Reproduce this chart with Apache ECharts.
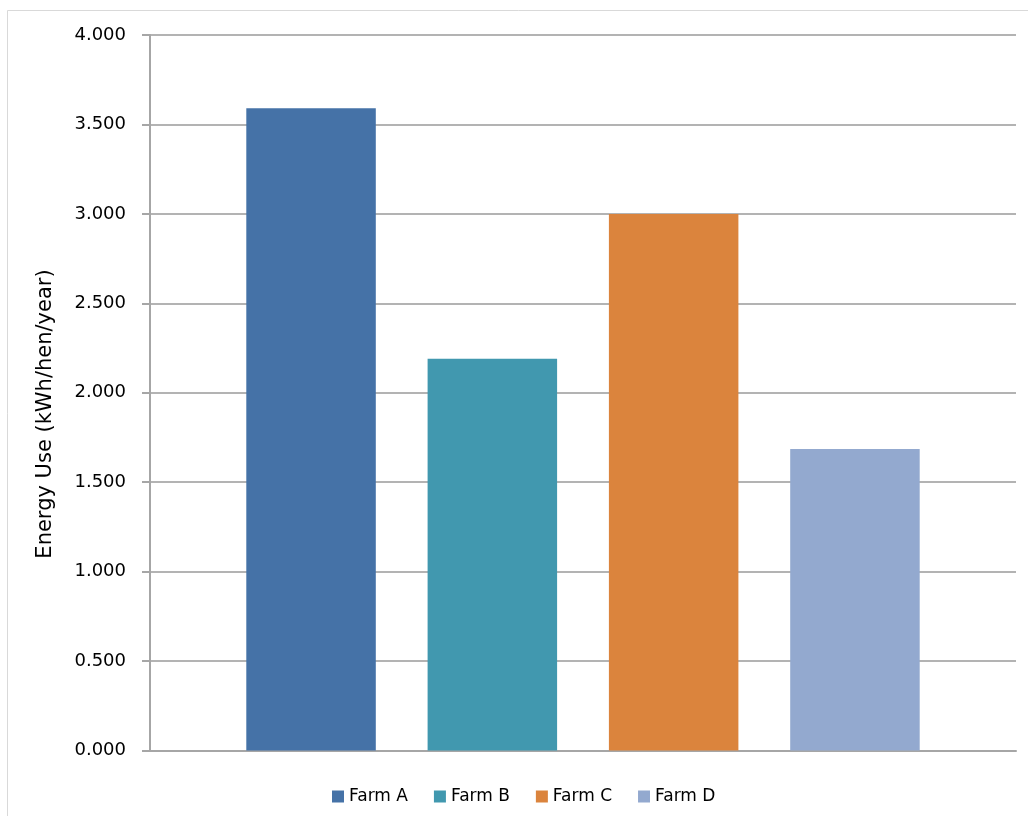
<!DOCTYPE html>
<html>
<head>
<meta charset="utf-8">
<script src="https://cdn.jsdelivr.net/npm/echarts@6/dist/echarts.min.js"></script>
<style>
html,body{margin:0;padding:0;background:#fff;}
#chart{width:1028px;height:816px;}
</style>
</head>
<body>
<div id="chart"></div>
<script>
const categories = ['Energy Use'];
const seriesNames = ['Farm A', 'Farm B', 'Farm C', 'Farm D'];
const seriesValues = [[3.59], [2.19], [3.00], [1.685]];
const seriesColors = ['#4572A7', '#4198AF', '#DB843D', '#93A9CF'];
const yTicks = { min: 0, max: 4, interval: 0.5 };
const yAxisTitle = 'Energy Use (kWh/hen/year)';

const FONT = '"DejaVu Sans", sans-serif';
const chart = echarts.init(document.getElementById('chart'), null, { renderer: 'canvas' });

const series = seriesNames.map((name, i) => ({
  name: name,
  type: 'bar',
  data: seriesValues[i],
  barWidth: 129.5,
  barGap: '40%',
  itemStyle: { color: seriesColors[i] },
  emphasis: { disabled: true },
  animation: false
}));

chart.setOption({
  animation: false,
  backgroundColor: '#fff',
  graphic: [{
    type: 'rect',
    shape: { x: 7.5, y: 10.5, width: 1030, height: 820 },
    style: { fill: 'none', stroke: '#d9d9d9', lineWidth: 1 },
    silent: true,
    z: -1
  }, {
    type: 'text',
    x: 46,
    y: 414,
    rotation: Math.PI / 2,
    style: {
      text: yAxisTitle,
      fontFamily: FONT,
      fontSize: 21,
      fill: '#000',
      align: 'center',
      verticalAlign: 'middle'
    },
    silent: true
  }],
  grid: { left: 150, right: 12, top: 35, bottom: 65.5, containLabel: false },
  legend: {
    data: seriesNames,
    left: 327,
    top: 783,
    icon: 'rect',
    itemWidth: 12,
    itemHeight: 12,
    itemGap: 26,
    textStyle: { fontFamily: FONT, fontSize: 17, color: '#000' },
    selectedMode: false
  },
  xAxis: {
    type: 'category',
    data: categories,
    axisLine: { show: true, lineStyle: { color: '#a6a6a6', width: 2 } },
    axisTick: { show: false },
    axisLabel: { show: false },
    splitLine: { show: false }
  },
  yAxis: {
    type: 'value',
    min: yTicks.min,
    max: yTicks.max,
    interval: yTicks.interval,
    axisLine: { show: true, lineStyle: { color: '#a6a6a6', width: 2 } },
    axisTick: { show: true, inside: false, length: 8, lineStyle: { color: '#a6a6a6', width: 2 } },
    axisLabel: {
      fontFamily: FONT, fontSize: 18, color: '#000', margin: 24,
      formatter: v => v.toFixed(3)
    },
    splitLine: { show: true, lineStyle: { color: '#b3b3b3', width: 2 } }
  },
  series: series
});
</script>
</body>
</html>
